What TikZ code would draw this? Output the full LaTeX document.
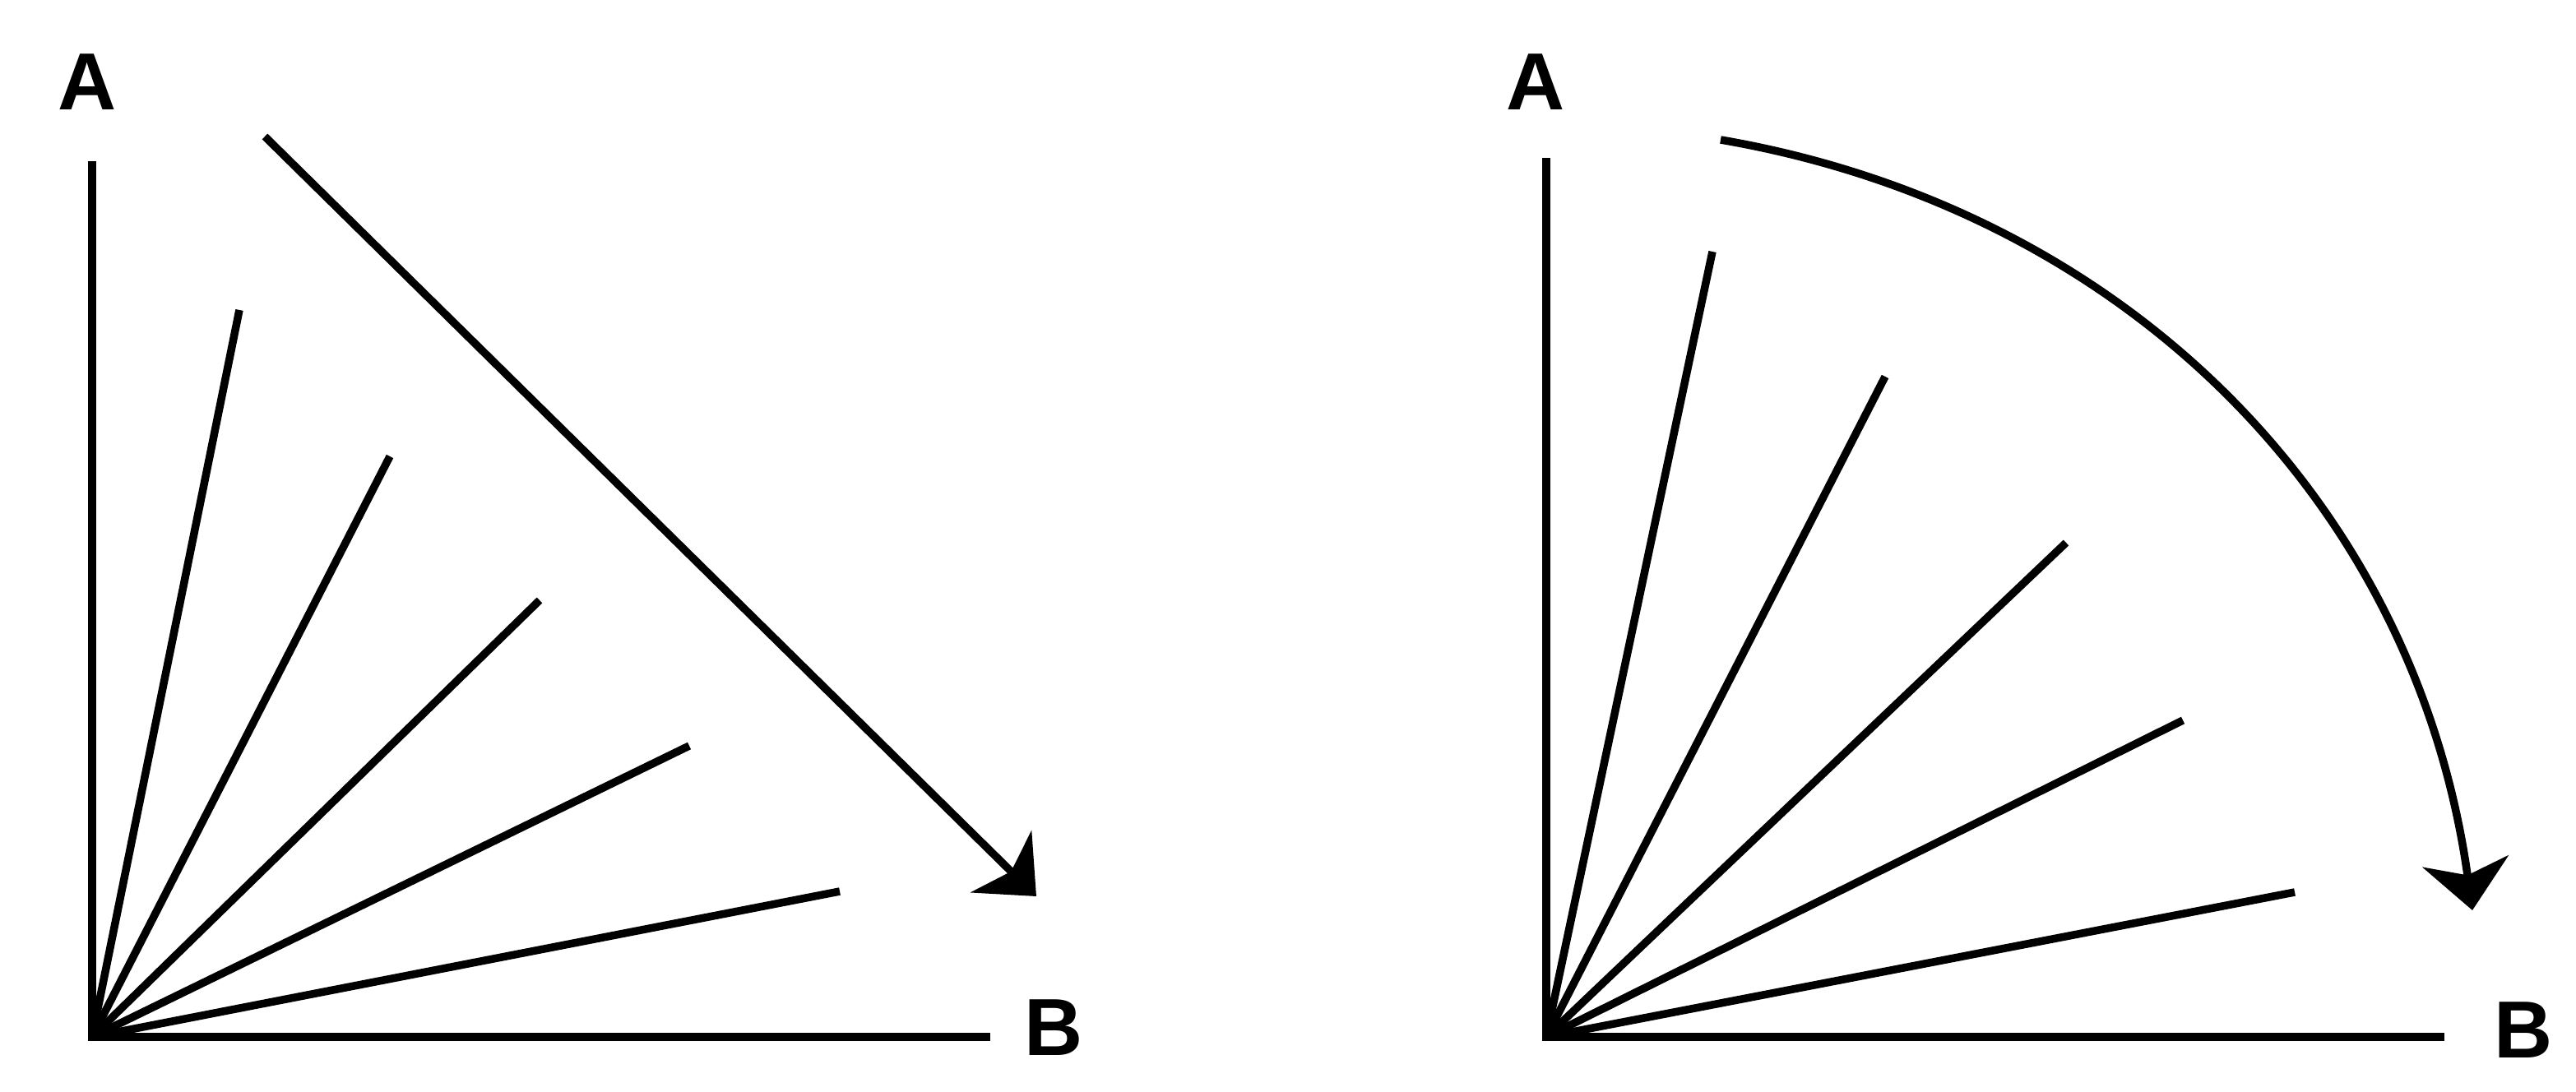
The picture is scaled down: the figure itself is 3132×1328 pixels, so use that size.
\documentclass[tikz,border=0pt]{standalone}
\usepackage{fontspec}
\setmainfont{Liberation Sans}
\usetikzlibrary{arrows.meta}
\begin{document}
\begin{tikzpicture}[x=0.01cm,y=-0.01cm,
  ray/.style={line width=0.095cm},
  axis/.style={line width=0.095cm,line join=miter},
  turn/.style={line width=0.095cm,-{Stealth[length=0.6cm,width=1.05cm,inset=0.17cm]}},
  lab/.style={inner sep=0pt,font=\fontsize{28}{28}\selectfont\bfseries}]
\useasboundingbox (0,0) rectangle (3132,1328);
% ---------- left panel ----------
\coordinate (O1) at (112,1261);
\coordinate (A1) at (112,196);
\coordinate (B1) at (1204,1261);
\node[lab] (la1) at (106,100) {A};
\node[lab] (lb1) at (1281,1250) {B};
\draw[axis] (A1) -- (O1) -- (B1);
\foreach \px/\py [count=\i] in {291/377, 474/555, 656/730, 838/907, 1021/1084}{
  \coordinate (l\i) at (\px,\py);
  \draw[ray] (O1) -- (l\i);
}
\coordinate (s1) at (322,166);
\coordinate (t1) at (1260,1090);
\draw[turn] (s1) -- (t1);
% ---------- right panel ----------
\coordinate (O2) at (1880,1261);
\coordinate (A2) at (1880,192);
\coordinate (B2) at (2972,1261);
\node[lab] (la2) at (1867,100) {A};
\node[lab] (lb2) at (3068,1253) {B};
\draw[axis] (A2) -- (O2) -- (B2);
\foreach \px/\py [count=\i] in {2082/306, 2292/458, 2512/660, 2654/876, 2790/1085}{
  \coordinate (r\i) at (\px,\py);
  \draw[ray] (O2) -- (r\i);
}
\coordinate (s2) at (2092,170);
\coordinate (t2) at (3006,1107);
\draw[turn] (s2) .. controls (2585,255) and (2937,612) .. (t2);
\end{tikzpicture}
\end{document}
